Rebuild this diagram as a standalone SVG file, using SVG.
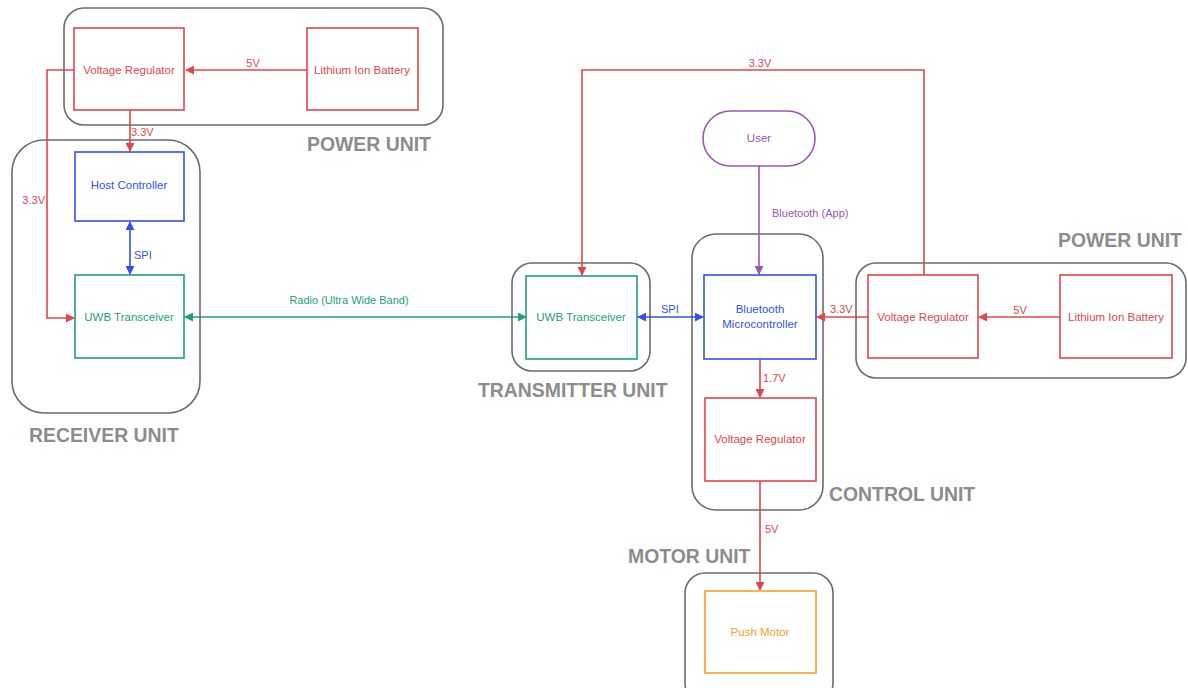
<svg xmlns="http://www.w3.org/2000/svg" width="1188" height="688" viewBox="0 0 1188 688">
<style>
.cont{fill:none;stroke:#6b6b6b;stroke-width:1.6}
.ulabel{font-family:"Liberation Sans",Arial,sans-serif;font-weight:bold;font-size:19.4px;fill:#8c8c8c}
.box{fill:#fff;stroke-width:1.6}
.t{font-family:"Liberation Sans",Arial,sans-serif;font-size:11.5px;text-anchor:middle}
.el{font-family:"Liberation Sans",Arial,sans-serif;font-size:11px}
.red{stroke:#e0474c}
.blue{stroke:#3352e8}
.green{stroke:#1f9e7d}
.purple{stroke:#9b55b5}
.orange{stroke:#f3a02a}
.tred{fill:#e0474c}
.tblue{fill:#3352e8}
.tgreen{fill:#1f9e7d}
.tpurple{fill:#9b55b5}
.torange{fill:#f3a02a}
.ln{fill:none;stroke-width:1.6}
</style>
<defs>
<marker id="ar" viewBox="0 0 10 10" refX="9" refY="5" markerWidth="9" markerHeight="9" markerUnits="userSpaceOnUse" orient="auto-start-reverse"><path d="M0,0 L10,5 L0,10 z" fill="#e0474c"/></marker>
<marker id="ab" viewBox="0 0 10 10" refX="9" refY="5" markerWidth="9" markerHeight="9" markerUnits="userSpaceOnUse" orient="auto-start-reverse"><path d="M0,0 L10,5 L0,10 z" fill="#3352e8"/></marker>
<marker id="ag" viewBox="0 0 10 10" refX="9" refY="5" markerWidth="9" markerHeight="9" markerUnits="userSpaceOnUse" orient="auto-start-reverse"><path d="M0,0 L10,5 L0,10 z" fill="#1f9e7d"/></marker>
<marker id="ap" viewBox="0 0 10 10" refX="9" refY="5" markerWidth="9" markerHeight="9" markerUnits="userSpaceOnUse" orient="auto-start-reverse"><path d="M0,0 L10,5 L0,10 z" fill="#9b55b5"/></marker>
</defs>
<rect width="1188" height="688" fill="#fff"/>

<g id="power-unit-top">
<rect class="cont" x="64" y="8" width="379" height="117" rx="20"/>
<text class="ulabel" x="307" y="151">POWER UNIT</text>
</g>
<g id="receiver-unit">
<rect class="cont" x="12" y="140" width="188" height="273" rx="32"/>
<text class="ulabel" x="29" y="442">RECEIVER UNIT</text>
</g>
<g id="transmitter-unit">
<rect class="cont" x="512" y="263" width="138" height="108" rx="20"/>
<text class="ulabel" x="478" y="397">TRANSMITTER UNIT</text>
</g>
<g id="control-unit">
<rect class="cont" x="692" y="234" width="131" height="276" rx="24"/>
<text class="ulabel" x="829" y="501">CONTROL UNIT</text>
</g>
<g id="power-unit-right">
<rect class="cont" x="856" y="263" width="330" height="115" rx="20"/>
<text class="ulabel" x="1058" y="247">POWER UNIT</text>
</g>
<g id="motor-unit">
<rect class="cont" x="685" y="573" width="148" height="130" rx="20"/>
<text class="ulabel" x="628" y="563">MOTOR UNIT</text>
</g>

<g id="connectors">
<line class="ln red" x1="307" y1="70" x2="186" y2="70" marker-end="url(#ar)"/>
<text class="el tred" x="253" y="67" text-anchor="middle">5V</text>
<line class="ln red" x1="130" y1="110" x2="130" y2="151" marker-end="url(#ar)"/>
<text class="el tred" x="131" y="136">3.3V</text>
<polyline class="ln red" points="74,70 47,70 47,318 74,318" marker-end="url(#ar)"/>
<text class="el tred" x="45" y="204" text-anchor="end">3.3V</text>
<line class="ln blue" x1="130" y1="222" x2="130" y2="274" marker-start="url(#ab)" marker-end="url(#ab)"/>
<text class="el tblue" x="134" y="259">SPI</text>
<line class="ln green" x1="185" y1="317" x2="526" y2="317" marker-start="url(#ag)" marker-end="url(#ag)"/>
<text class="el tgreen" x="349" y="304" text-anchor="middle">Radio (Ultra Wide Band)</text>
<polyline class="ln red" points="924,276 924,70 582,70 582,275" marker-end="url(#ar)"/>
<text class="el tred" x="760" y="67" text-anchor="middle">3.3V</text>
<line class="ln purple" x1="759" y1="166" x2="759" y2="274" marker-end="url(#ap)"/>
<text class="el tpurple" x="772" y="217">Bluetooth (App)</text>
<line class="ln blue" x1="638" y1="317" x2="703" y2="317" marker-start="url(#ab)" marker-end="url(#ab)"/>
<text class="el tblue" x="661" y="313">SPI</text>
<line class="ln red" x1="868" y1="317" x2="817" y2="317" marker-end="url(#ar)"/>
<text class="el tred" x="830" y="313">3.3V</text>
<line class="ln red" x1="1060" y1="317" x2="979" y2="317" marker-end="url(#ar)"/>
<text class="el tred" x="1020" y="314" text-anchor="middle">5V</text>
<line class="ln red" x1="760" y1="359" x2="760" y2="397" marker-end="url(#ar)"/>
<text class="el tred" x="763" y="382">1.7V</text>
<line class="ln red" x1="760" y1="481" x2="760" y2="590" marker-end="url(#ar)"/>
<text class="el tred" x="765" y="533">5V</text>
</g>

<g id="vreg-top"><rect class="box red" x="74" y="28" width="110" height="82"/><text class="t tred" x="129" y="74">Voltage Regulator</text></g>
<g id="battery-top"><rect class="box red" x="307" y="28" width="111" height="82"/><text class="t tred" x="362" y="74">Lithium Ion Battery</text></g>
<g id="host-controller"><rect class="box blue" x="75" y="152" width="109" height="69"/><text class="t tblue" x="129" y="189">Host Controller</text></g>
<g id="uwb-receiver"><rect class="box green" x="75" y="275" width="109" height="83"/><text class="t tgreen" x="129" y="321">UWB Transceiver</text></g>
<g id="uwb-transmitter"><rect class="box green" x="526" y="276" width="111" height="83"/><text class="t tgreen" x="581" y="321">UWB Transceiver</text></g>
<g id="user"><rect class="box purple" x="703" y="111" width="112" height="55" rx="27.5"/><text class="t tpurple" x="759" y="142">User</text></g>
<g id="bt-mcu"><rect class="box blue" x="704" y="275" width="112" height="84"/><text class="t tblue" x="760" y="313">Bluetooth</text><text class="t tblue" x="760" y="328">Microcontroller</text></g>
<g id="vreg-control"><rect class="box red" x="705" y="398" width="111" height="83"/><text class="t tred" x="760" y="443">Voltage Regulator</text></g>
<g id="vreg-right"><rect class="box red" x="868" y="275" width="110" height="83"/><text class="t tred" x="923" y="321">Voltage Regulator</text></g>
<g id="battery-right"><rect class="box red" x="1060" y="275" width="112" height="83"/><text class="t tred" x="1116" y="321">Lithium Ion Battery</text></g>
<g id="push-motor"><rect class="box orange" x="705" y="591" width="111" height="82"/><text class="t torange" x="760" y="636">Push Motor</text></g>
</svg>
